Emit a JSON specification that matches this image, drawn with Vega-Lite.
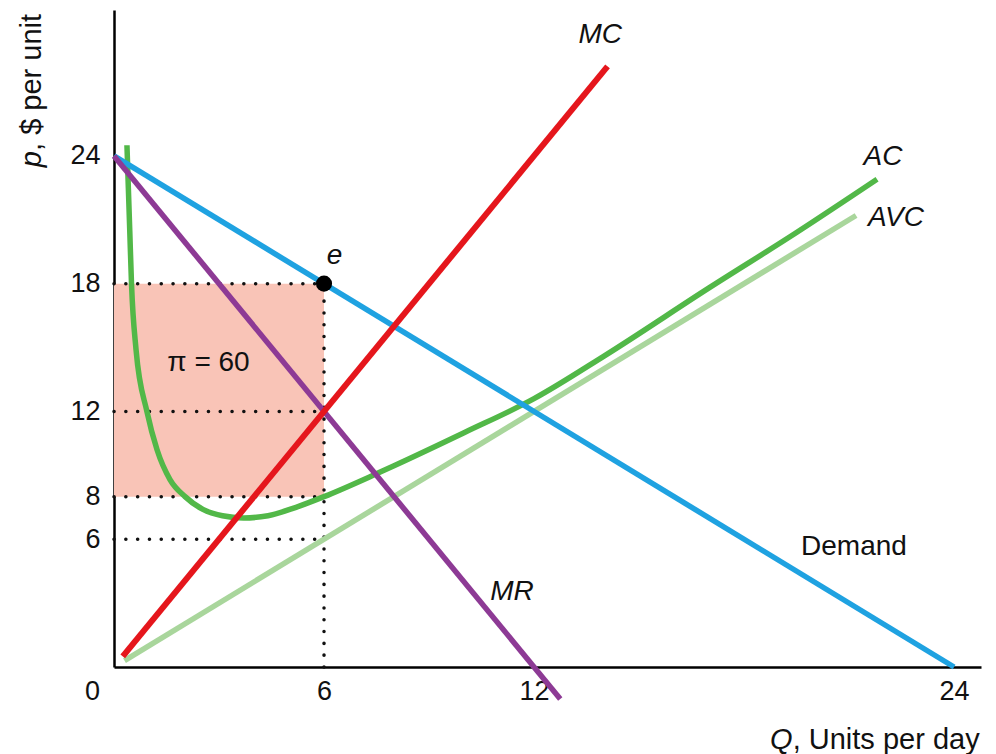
{
  "$schema": "https://vega.github.io/schema/vega-lite/v6.json",
  "width": 867,
  "height": 657,
  "autosize": {"type": "none"},
  "padding": {"left": 114, "top": 10, "right": 15, "bottom": 87},
  "background": "white",
  "config": {
    "view": {"stroke": null},
    "text": {"font": "Liberation Sans", "color": "#111111"}
  },
  "layer": [
    {
      "description": "Profit rectangle between price and average cost at the optimum",
      "data": {"values": [{"q_from": 0, "q_to": 6, "p_from": 8, "p_to": 18}]},
      "mark": {"type": "rect", "color": "#f9c4b7"},
      "encoding": {
        "x": {
          "field": "q_from", "type": "quantitative", "title": null,
          "scale": {"domain": [0, 24.77], "nice": false, "zero": false},
          "axis": {
            "title": null, "values": [0, 6, 12, 24], "ticks": false, "tickSize": 0, "grid": false,
            "domainColor": "#000000", "domainWidth": 2.5,
            "labelFont": "Liberation Sans", "labelFontSize": 27, "labelColor": "#111111",
            "labelPadding": 11, "labelFlush": false, "labelOverlap": false,
            "labelOffset": {"condition": {"test": "datum.value === 0", "value": -22}, "value": 0}
          }
        },
        "x2": {"field": "q_to"},
        "y": {
          "field": "p_from", "type": "quantitative", "title": null,
          "scale": {"domain": [0, 30.85], "nice": false},
          "axis": {
            "title": null, "values": [6, 8, 12, 18, 24], "ticks": false, "tickSize": 0, "grid": false,
            "domainColor": "#000000", "domainWidth": 2.5,
            "labelFont": "Liberation Sans", "labelFontSize": 27, "labelColor": "#111111",
            "labelPadding": 14, "labelFlush": false, "labelOverlap": false
          }
        },
        "y2": {"field": "p_to"}
      }
    },
    {
      "description": "Dotted guide lines",
      "data": {"values": [
        {"qa": 0, "qb": 6, "pa": 18, "pb": 18},
        {"qa": 0, "qb": 6, "pa": 12, "pb": 12},
        {"qa": 0, "qb": 6, "pa": 8, "pb": 8},
        {"qa": 0, "qb": 6, "pa": 6, "pb": 6},
        {"qa": 6, "qb": 6, "pa": 0, "pb": 18}
      ]},
      "mark": {"type": "rule", "color": "#111111", "strokeWidth": 3.5, "strokeCap": "round", "strokeDash": [0.1, 11.7]},
      "encoding": {
        "x": {"field": "qa", "type": "quantitative", "title": null},
        "x2": {"field": "qb"},
        "y": {"field": "pa", "type": "quantitative", "title": null},
        "y2": {"field": "pb"}
      }
    },
    {
      "description": "AVC",
      "data": {"values": [{"q": 0.3, "p": 0.3}, {"q": 21.2, "p": 21.2}]},
      "mark": {"type": "line", "color": "#a9d69c", "strokeWidth": 5.5},
      "encoding": {
        "x": {"field": "q", "type": "quantitative", "title": null},
        "y": {"field": "p", "type": "quantitative", "title": null}
      }
    },
    {
      "description": "AC",
      "data": {"values": [
        {"q": 0.37, "p": 24.5}, {"q": 0.45, "p": 20.5}, {"q": 0.5, "p": 18},
        {"q": 0.63, "p": 14.9}, {"q": 0.94, "p": 12}, {"q": 1.23, "p": 10.2},
        {"q": 1.6, "p": 8.8}, {"q": 2.03, "p": 8.0}, {"q": 2.54, "p": 7.4},
        {"q": 3.1, "p": 7.1}, {"q": 3.7, "p": 7.0}, {"q": 4.4, "p": 7.1},
        {"q": 5.2, "p": 7.5}, {"q": 6, "p": 8}, {"q": 7.4, "p": 9.0},
        {"q": 8, "p": 9.45}, {"q": 10, "p": 11}, {"q": 12, "p": 12.6},
        {"q": 14, "p": 14.6}, {"q": 17, "p": 17.8}, {"q": 19.5, "p": 20.4},
        {"q": 21.8, "p": 22.9}
      ]},
      "mark": {"type": "line", "color": "#52b848", "strokeWidth": 5.5, "interpolate": "monotone"},
      "encoding": {
        "x": {"field": "q", "type": "quantitative", "title": null},
        "y": {"field": "p", "type": "quantitative", "title": null}
      }
    },
    {
      "description": "Demand",
      "data": {"values": [{"q": 0, "p": 24}, {"q": 24, "p": 0}]},
      "mark": {"type": "line", "color": "#1fa2e1", "strokeWidth": 5.5},
      "encoding": {
        "x": {"field": "q", "type": "quantitative", "title": null},
        "y": {"field": "p", "type": "quantitative", "title": null}
      }
    },
    {
      "description": "MR",
      "data": {"values": [{"q": 0, "p": 24}, {"q": 12.75, "p": -1.5}]},
      "mark": {"type": "line", "color": "#8d3a95", "strokeWidth": 5.5},
      "encoding": {
        "x": {"field": "q", "type": "quantitative", "title": null},
        "y": {"field": "p", "type": "quantitative", "title": null}
      }
    },
    {
      "description": "MC",
      "data": {"values": [{"q": 0.25, "p": 0.5}, {"q": 14.1, "p": 28.2}]},
      "mark": {"type": "line", "color": "#e5161c", "strokeWidth": 6},
      "encoding": {
        "x": {"field": "q", "type": "quantitative", "title": null},
        "y": {"field": "p", "type": "quantitative", "title": null}
      }
    },
    {
      "description": "Optimum point e",
      "data": {"values": [{"q": 6, "p": 18}]},
      "mark": {"type": "point", "filled": true, "color": "#000000", "opacity": 1, "size": 260},
      "encoding": {
        "x": {"field": "q", "type": "quantitative", "title": null},
        "y": {"field": "p", "type": "quantitative", "title": null}
      }
    },
    {
      "description": "Italic curve labels",
      "data": {"values": [
        {"q": 13.89, "p": 29.67, "label": "MC"},
        {"q": 21.97, "p": 23.94, "label": "AC"},
        {"q": 22.34, "p": 21.08, "label": "AVC"},
        {"q": 11.37, "p": 3.52, "label": "MR"},
        {"q": 6.3, "p": 19.3, "label": "e"}
      ]},
      "mark": {"type": "text", "fontSize": 28, "fontStyle": "italic", "align": "center", "baseline": "middle"},
      "encoding": {
        "x": {"field": "q", "type": "quantitative", "title": null},
        "y": {"field": "p", "type": "quantitative", "title": null},
        "text": {"field": "label"}
      }
    },
    {
      "description": "Upright labels",
      "data": {"values": [
        {"q": 21.14, "p": 5.63, "label": "Demand"},
        {"q": 2.7, "p": 14.27, "label": "π = 60"}
      ]},
      "mark": {"type": "text", "fontSize": 28, "align": "center", "baseline": "middle"},
      "encoding": {
        "x": {"field": "q", "type": "quantitative", "title": null},
        "y": {"field": "p", "type": "quantitative", "title": null},
        "text": {"field": "label"}
      }
    },
    {
      "description": "Horizontal axis title, italic symbol",
      "data": {"values": [{"q": 18.74, "p": -3.43, "label": "Q"}]},
      "mark": {"type": "text", "fontSize": 29, "fontStyle": "italic", "align": "left", "baseline": "middle"},
      "encoding": {
        "x": {"field": "q", "type": "quantitative", "title": null},
        "y": {"field": "p", "type": "quantitative", "title": null},
        "text": {"field": "label"}
      }
    },
    {
      "description": "Horizontal axis title, remainder",
      "data": {"values": [{"q": 19.39, "p": -3.43, "label": ", Units per day"}]},
      "mark": {"type": "text", "fontSize": 29, "align": "left", "baseline": "middle"},
      "encoding": {
        "x": {"field": "q", "type": "quantitative", "title": null},
        "y": {"field": "p", "type": "quantitative", "title": null},
        "text": {"field": "label"}
      }
    },
    {
      "description": "Vertical axis title, italic symbol",
      "data": {"values": [{"q": -2.34, "p": 23.47, "label": "p"}]},
      "mark": {"type": "text", "fontSize": 29, "fontStyle": "italic", "angle": 270, "align": "left", "baseline": "middle"},
      "encoding": {
        "x": {"field": "q", "type": "quantitative", "title": null},
        "y": {"field": "p", "type": "quantitative", "title": null},
        "text": {"field": "label"}
      }
    },
    {
      "description": "Vertical axis title, remainder",
      "data": {"values": [{"q": -2.34, "p": 24.23, "label": ", $ per unit"}]},
      "mark": {"type": "text", "fontSize": 29, "angle": 270, "align": "left", "baseline": "middle"},
      "encoding": {
        "x": {"field": "q", "type": "quantitative", "title": null},
        "y": {"field": "p", "type": "quantitative", "title": null},
        "text": {"field": "label"}
      }
    }
  ]
}
